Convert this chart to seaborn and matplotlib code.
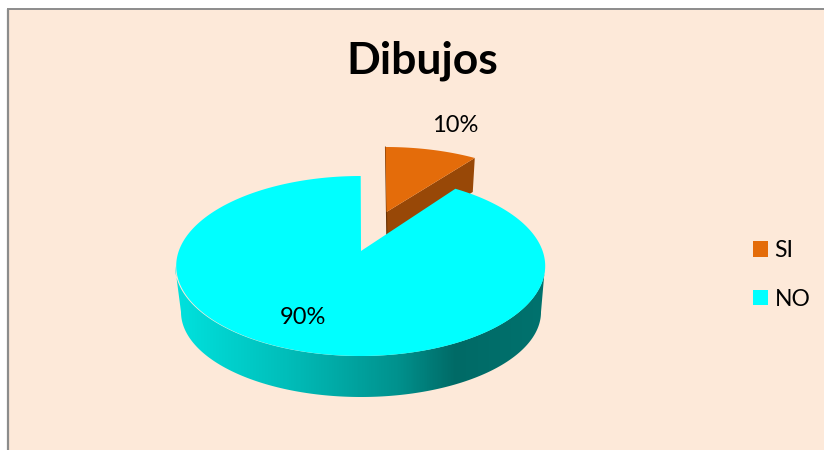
import numpy as np
import seaborn as sns
import matplotlib
matplotlib.use("Agg")
import matplotlib.pyplot as plt
from matplotlib.colors import LinearSegmentedColormap
from matplotlib.patches import Patch, Polygon

title = "Dibujos"
categories = ["SI", "NO"]
shares = [10, 90]
share_labels = ["10%", "90%"]

BG = "#FDE9D9"
FRAME = "#8C8C8C"
palette = sns.color_palette(["#E46C0A", "#00FFFF"])
ORANGE_WALL = "#984807"
ORANGE_EDGE = "#6B3305"
cyan_wall = ["#00E2DE", "#00BEBA", "#00928E", "#006A66", "#00726E"]
wall_stops = [0.0, 0.3, 0.6, 0.76, 1.0]

sns.set_theme(style="white")
plt.rcParams["font.family"] = ["Lato", "DejaVu Sans"]


def rim_angle(theta, offset):
    # apex sits above the ellipse centre (perspective), so rim angles get bent
    z = np.exp(1j * theta)
    c = 1j * offset
    return np.angle((z + c) / (1 + np.conj(c) * z))


def arc(theta, cx, cy, rx, ry, offset):
    t = rim_angle(theta, offset)
    return cx + rx * np.cos(t), cy - ry * np.sin(t)


fig = plt.figure(figsize=(8.24, 4.5), dpi=100)
fig.patch.set_facecolor("white")
ax = fig.add_axes([0, 0, 1, 1])
ax.set_xlim(0, 824)
ax.set_ylim(450, 0)
ax.axis("off")

# chart area, only left and top border are visible
ax.add_patch(Polygon([(8, 9), (824, 9), (824, 450), (8, 450)], closed=True, fc=BG, ec="none", zorder=0))
ax.plot([8, 8], [450, 9], color=FRAME, lw=1.6, zorder=1, solid_capstyle="butt")
ax.plot([7, 824], [8.5, 8.5], color=FRAME, lw=1.4, zorder=1, solid_capstyle="butt")

fracs = np.array(shares) / sum(shares) * 2 * np.pi
start = np.pi / 2
bounds = [start, start - fracs[0], start - fracs[0] - fracs[1]]

# exploded SI slice
th = np.linspace(bounds[0], bounds[1], 60)
x, y = arc(th, 385.5, 224.6, 174, 77.6, 0.0813)
apex = (386.5, 212)
depth = 34
ax.fill([apex[0], x[-1], x[-1] - 2, apex[0] + 0.5],
        [apex[1], y[-1], y[-1] + depth, apex[1] + depth],
        color=ORANGE_WALL, lw=0, zorder=2)
ax.plot([x[0], apex[0] + 0.5], [y[0], apex[1] + depth], color=ORANGE_EDGE, lw=0.8, zorder=2)
ax.fill(np.r_[apex[0], x], np.r_[apex[1], y], color=palette[0], lw=0, zorder=3)

# NO slice side wall
t = np.linspace(np.pi, 2 * np.pi, 200)
tx = 360 + 185 * np.cos(t)
ty = 266 - 90 * np.sin(t)
bx = 361 + 180 * np.cos(t)
by = 312 - 85 * np.sin(t)
cmap = LinearSegmentedColormap.from_list("wall", list(zip(wall_stops, cyan_wall)))
grad = ax.imshow(np.linspace(0, 1, 400)[None, :], extent=[175, 545, 400, 260], aspect="auto", cmap=cmap, zorder=4)
clip = Polygon(np.c_[np.r_[tx, bx[::-1]], np.r_[ty, by[::-1]]], closed=True, transform=ax.transData)
grad.set_clip_path(clip)
ax.set_xlim(0, 824)
ax.set_ylim(450, 0)

# NO slice top
th = np.linspace(bounds[1], bounds[2], 300)
x, y = arc(th, 360.7, 266, 184.5, 90, 0.0813)
ax.fill(np.r_[361, x], np.r_[251, y], color=palette[1], lw=0, zorder=5)

ax.text(422, 61, title, ha="center", va="center", fontsize=32, fontweight="bold", color="black", zorder=6)
ax.text(455.5, 126, share_labels[0], ha="center", va="center", fontsize=17, color="black", zorder=6)
ax.text(303, 318, share_labels[1], ha="center", va="center", fontsize=17, color="black", zorder=6)

handles = [Patch(facecolor=palette[i], edgecolor="none", label=categories[i]) for i in range(2)]
ax.legend(handles=handles, loc="center left", bbox_to_anchor=(741.5 / 824, 1 - 275 / 450), frameon=False,
          fontsize=16.5, handlelength=0.66, handleheight=0.66, handletextpad=0.28, labelspacing=1.2,
          borderpad=0, borderaxespad=0.5, labelcolor="black")

fig.savefig("out.png", dpi=100, facecolor="white")
